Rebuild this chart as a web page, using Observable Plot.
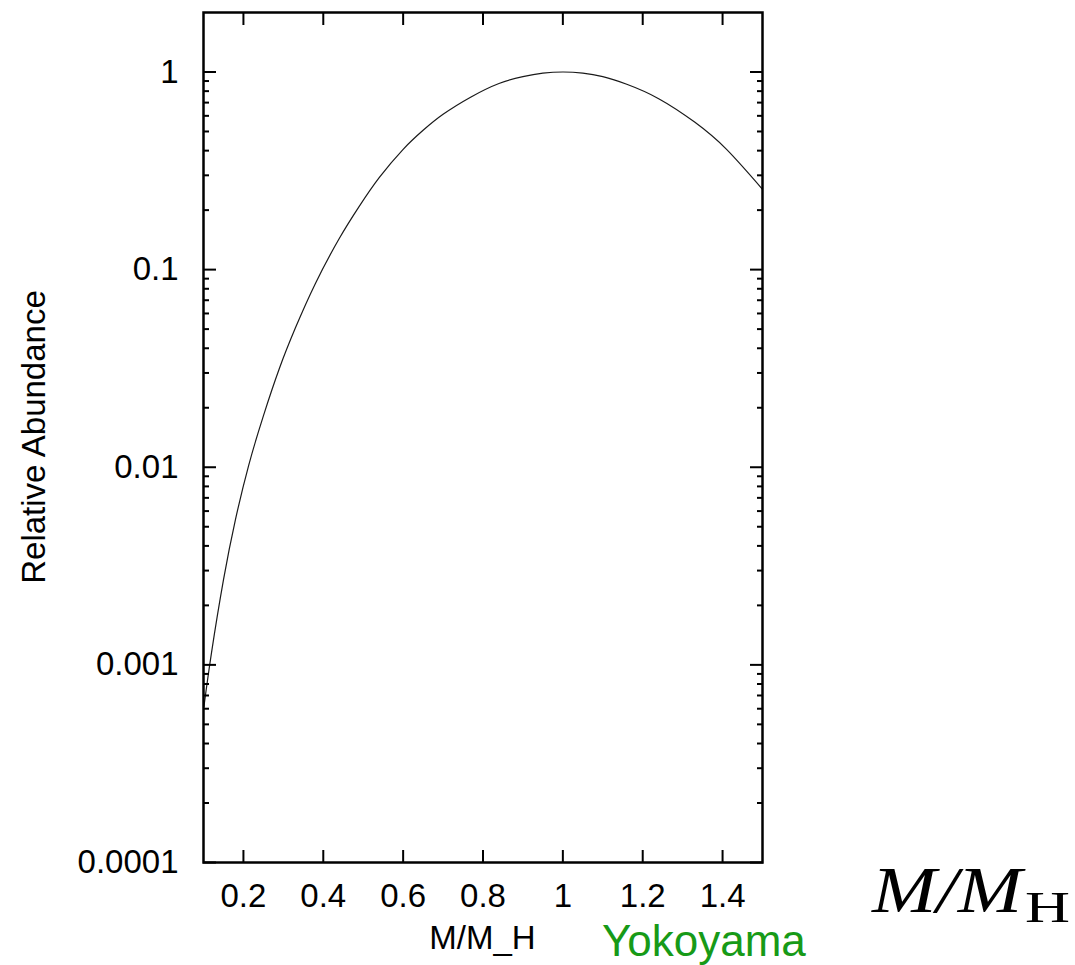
<!DOCTYPE html>
<html>
<head>
<meta charset="utf-8">
<script src="https://cdn.jsdelivr.net/npm/d3@7"></script>
<script src="https://cdn.jsdelivr.net/npm/@observablehq/plot@0.6"></script>
<style>
  html, body { margin: 0; padding: 0; background: #fff; overflow: hidden; }
</style>
</head>
<body>
<div id="chart"></div>
<script>
// ---- data ----
const massRatio = [0.101, 0.12, 0.15, 0.18, 0.213, 0.25, 0.29, 0.33, 0.38, 0.44,
                   0.49, 0.54, 0.60, 0.65, 0.70, 0.77, 0.84, 0.90, 0.95, 1.00,
                   1.05, 1.10, 1.16, 1.24, 1.33, 1.41, 1.50];
const abundance = [0.000614, 0.00115, 0.00269, 0.00543, 0.0102, 0.0182, 0.0316, 0.0506, 0.0849, 0.1436,
                   0.2088, 0.2917, 0.4063, 0.507, 0.611, 0.748, 0.875, 0.948, 0.986, 1.000,
                   0.987, 0.947, 0.867, 0.733, 0.558, 0.406, 0.255];
const xTickValues = [0.2, 0.4, 0.6, 0.8, 1, 1.2, 1.4];
const xTickLabels = ["0.2", "0.4", "0.6", "0.8", "1", "1.2", "1.4"];
const yTickValues = [0.0001, 0.001, 0.01, 0.1, 1];
const yTickLabels = ["0.0001", "0.001", "0.01", "0.1", "1"];
const yMinorMultipliers = [2, 3, 4, 5, 6, 7, 8, 9];
const yAxisTitle = "Relative Abundance";
const xAxisTitle = "M/M_H";
const creditText = "Yokoyama";
const mathMain = "M/M";
const mathSub = "H";

// ---- derived tables ----
const data = massRatio.map((m, i) => ({m, a: abundance[i]}));
const yMinor = yTickValues.slice(0, -1).flatMap(d => yMinorMultipliers.map(k => +(k * d).toPrecision(3)));
const fmtX = d => xTickLabels[xTickValues.indexOf(d)];
const fmtY = d => yTickLabels[yTickValues.indexOf(d)];

const chart = Plot.plot({
  width: 1075,
  height: 965,
  marginLeft: 203,
  marginRight: 313,
  marginTop: 12,
  marginBottom: 103,
  style: {
    fontFamily: "'Liberation Sans', Arial, Helvetica, sans-serif",
    fontSize: "33px",
    background: "#fff",
    color: "#000"
  },
  x: {domain: [0.1, 1.5], label: null},
  y: {type: "log", domain: [1e-4, 2], label: null},
  marks: [
    Plot.line(data, {x: "m", y: "a", stroke: "#1a1a1a", strokeWidth: 1.2, curve: "natural"}),
    // inward ticks
    Plot.axisX(xTickValues, {anchor: "bottom", tickSize: -12, strokeWidth: 2, fill: "none", label: null}),
    Plot.axisX(xTickValues, {anchor: "top", tickSize: -12, strokeWidth: 2, fill: "none", label: null}),
    Plot.axisY(yTickValues, {anchor: "left", tickSize: -13, strokeWidth: 2, fill: "none", label: null}),
    Plot.axisY(yTickValues, {anchor: "right", tickSize: -13, strokeWidth: 2, fill: "none", label: null}),
    Plot.axisY(yMinor, {anchor: "left", tickSize: -6, strokeWidth: 2, fill: "none", label: null}),
    Plot.axisY(yMinor, {anchor: "right", tickSize: -6, strokeWidth: 2, fill: "none", label: null}),
    // tick labels
    Plot.axisX(xTickValues, {anchor: "bottom", tickSize: 0, tickPadding: 21, tickFormat: fmtX, label: null}),
    Plot.axisY(yTickValues, {anchor: "left", tickSize: 0, tickPadding: 25, tickFormat: fmtY, label: null}),
    Plot.frame({stroke: "#000", strokeWidth: 2.5})
  ]
});

document.getElementById("chart").appendChild(chart);

const svg = d3.select(chart);
svg.append("text")
  .attr("transform", "translate(45,437) rotate(-90)")
  .attr("text-anchor", "middle")
  .attr("font-size", 33)
  .attr("fill", "#000")
  .text(yAxisTitle);

svg.append("text")
  .attr("x", 482.5)
  .attr("y", 949)
  .attr("text-anchor", "middle")
  .attr("font-size", 33)
  .attr("fill", "#000")
  .text(xAxisTitle);

svg.append("text")
  .attr("x", 602)
  .attr("y", 956)
  .attr("text-anchor", "start")
  .attr("font-size", 44)
  .attr("fill", "#179a17")
  .text(creditText);

const math = svg.append("g")
  .attr("font-family", "'Liberation Serif', 'Times New Roman', serif")
  .attr("fill", "#000")
  .attr("text-anchor", "start");
math.append("text")
  .attr("x", 872)
  .attr("y", 912)
  .attr("font-size", 65)
  .attr("font-style", "italic")
  .attr("textLength", 150)
  .attr("lengthAdjust", "spacingAndGlyphs")
  .text(mathMain);
math.append("text")
  .attr("x", 1025)
  .attr("y", 922)
  .attr("font-size", 45)
  .attr("textLength", 45)
  .attr("lengthAdjust", "spacingAndGlyphs")
  .text(mathSub);
</script>
</body>
</html>
